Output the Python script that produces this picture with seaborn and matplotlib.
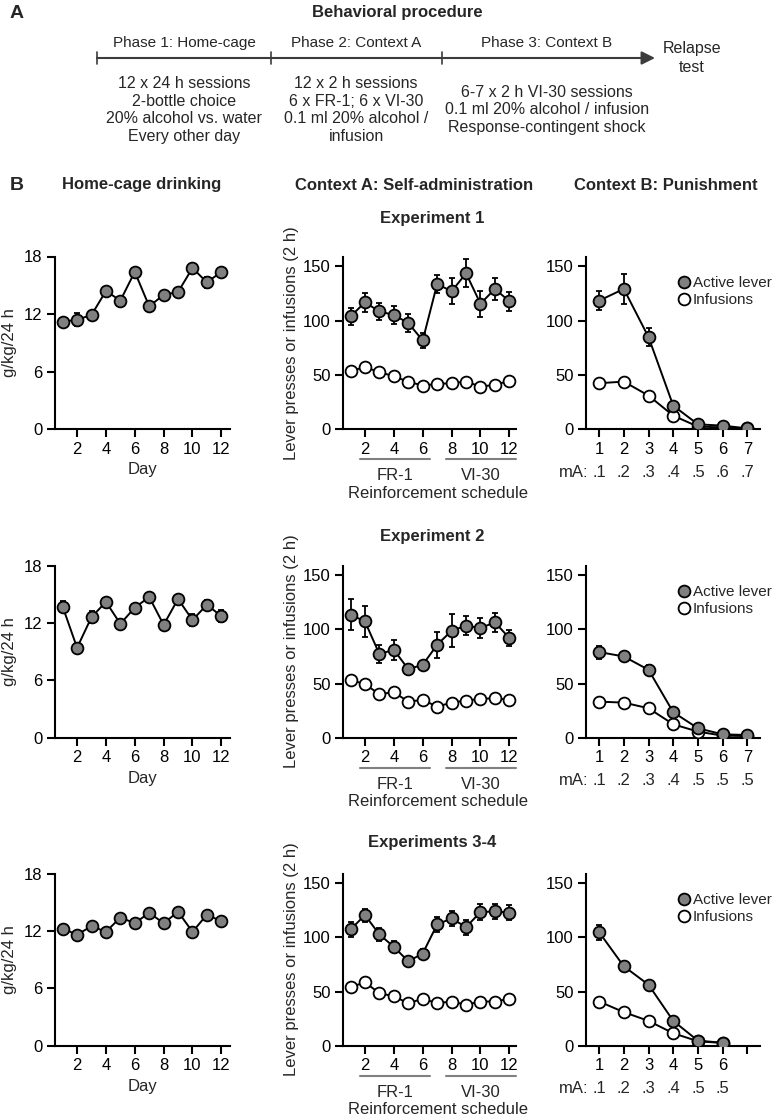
import matplotlib
matplotlib.use("Agg")
import matplotlib.pyplot as plt
import matplotlib.transforms as mtransforms
from matplotlib.lines import Line2D
import seaborn as sns

sns.set_theme(style="ticks")
plt.rcParams['font.family'] = ['Liberation Sans', 'DejaVu Sans']

# ---------------- data ----------------
days = [1, 2, 3, 4, 5, 6, 7, 8, 9, 10, 11, 12]
day_ticks = [2, 4, 6, 8, 10, 12]

home1 = [11.2, 11.4, 11.9, 14.4, 13.4, 16.4, 12.8, 14.0, 14.3, 16.8, 15.3, 16.4]
home1_err = [0.3, 0.7, 0.3, 0.3, 0.3, 0.3, 0.3, 0.3, 0.3, 0.3, 0.6, 0.3]
home2 = [13.7, 9.4, 12.6, 14.2, 11.9, 13.6, 14.7, 11.8, 14.5, 12.3, 13.9, 12.7]
home2_err = [0.6, 0.3, 0.6, 0.3, 0.3, 0.3, 0.3, 0.3, 0.3, 0.6, 0.5, 0.6]
home34 = [12.25, 11.6, 12.5, 11.9, 13.4, 12.8, 13.9, 12.8, 14.0, 11.9, 13.7, 13.0]
home34_err = [0.2, 0.2, 0.2, 0.2, 0.2, 0.2, 0.2, 0.2, 0.2, 0.2, 0.2, 0.2]

sa_active1 = [103.8, 116.7, 108.4, 105.1, 97.7, 81.6, 133.7, 126.9, 143.5, 115.5, 129.1, 117.7]
sa_active1_err = [8, 9, 8, 8, 8, 7, 8, 12, 13, 12, 10, 9]
sa_inf1 = [53.9, 56.7, 52.7, 48.4, 43.7, 40.0, 41.6, 42.2, 43.7, 39.1, 40.7, 44.4]
sa_inf1_err = [3, 2, 2, 2, 2, 2, 2, 2, 2, 2, 2, 2]

sa_active2 = [113.6, 107.4, 77.2, 81.2, 63.3, 67.3, 85.8, 98.8, 103.4, 101.3, 106.5, 92.0]
sa_active2_err = [14.5, 14, 8, 9, 4, 3, 12, 15, 9, 9, 9, 7]
sa_inf2 = [53.4, 49.4, 40.2, 42.0, 33.3, 34.9, 28.7, 32.4, 34.3, 35.8, 36.5, 34.9]
sa_inf2_err = [4, 2, 2, 2, 2, 2, 2, 2, 2, 2, 2, 2]

sa_active34 = [107.3, 120.6, 102.7, 91.3, 77.9, 85.1, 112.0, 117.5, 109.5, 123.4, 124.0, 122.8]
sa_active34_err = [7, 6, 6, 5, 4, 4, 7, 7, 7, 7, 7, 7]
sa_inf34 = [54.2, 58.4, 48.6, 45.5, 39.3, 43.3, 39.3, 40.8, 37.8, 40.8, 40.8, 43.3]
sa_inf34_err = [2, 2, 2, 2, 2, 2, 2, 2, 2, 2, 2, 2]

pun_active1 = [118.3, 129.1, 84.7, 21.5, 4.3, 3.1, 0.6]
pun_active1_err = [9, 14, 8, 3, 1, 1, 0.5]
pun_inf1 = [42.2, 43.7, 30.8, 12.3, 2.2, 1.5, 0.5]
pun_inf1_err = [2, 2, 2, 1, 0.5, 0.5, 0.3]
mA1 = ['.1', '.2', '.3', '.4', '.5', '.6', '.7']

pun_active2 = [79.1, 75.0, 62.7, 23.5, 8.7, 3.1, 2.5]
pun_active2_err = [6, 3, 4, 3, 2, 1, 1]
pun_inf2 = [33.3, 32.4, 27.2, 12.4, 5.6, 1.9, 1.5]
pun_inf2_err = [2, 2, 2, 1, 1, 0.5, 0.5]
mA2 = ['.1', '.2', '.3', '.4', '.5', '.5', '.5']

pun_active34 = [104.8, 73.3, 56.3, 22.9, 4.6, 2.8]
pun_active34_err = [7, 3, 3, 3, 1, 1]
pun_inf34 = [40.8, 31.0, 22.9, 11.5, 4.1, 2.5]
pun_inf34_err = [2, 2, 2, 1, 1, 0.5]
mA34 = ['.1', '.2', '.3', '.4', '.5', '.5']

experiments = ['Experiment 1', 'Experiment 2', 'Experiments 3-4']
col_titles = ['Home-cage drinking', 'Context A: Self-administration', 'Context B: Punishment']

rows = [
    dict(home=home1, home_err=home1_err, sa_a=sa_active1, sa_ae=sa_active1_err,
         sa_i=sa_inf1, sa_ie=sa_inf1_err, p_a=pun_active1, p_ae=pun_active1_err,
         p_i=pun_inf1, p_ie=pun_inf1_err, mA=mA1),
    dict(home=home2, home_err=home2_err, sa_a=sa_active2, sa_ae=sa_active2_err,
         sa_i=sa_inf2, sa_ie=sa_inf2_err, p_a=pun_active2, p_ae=pun_active2_err,
         p_i=pun_inf2, p_ie=pun_inf2_err, mA=mA2),
    dict(home=home34, home_err=home34_err, sa_a=sa_active34, sa_ae=sa_active34_err,
         sa_i=sa_inf34, sa_ie=sa_inf34_err, p_a=pun_active34, p_ae=pun_active34_err,
         p_i=pun_inf34, p_ie=pun_inf34_err, mA=mA34),
]

GRAY = '#808080'
W, H = 777, 1120
fig = plt.figure(figsize=(W / 100, H / 100), dpi=100)

# ---------------- overlay for procedure & headings ----------------
ov = fig.add_axes([0, 0, 1, 1], zorder=-1)
ov.set_xlim(0, W)
ov.set_ylim(H, 0)
ov.axis('off')

ov.text(10, 13, 'A', fontsize=14, fontweight='bold', ha='left', va='center')
ov.text(397, 12, 'Behavioral procedure', fontsize=12, fontweight='bold', ha='center', va='center')
line_col = '#3c3c3c'
ov.annotate('', xy=(655, 58), xytext=(97, 58),
            arrowprops=dict(arrowstyle='-|>', color=line_col, lw=1.5, mutation_scale=20,
                            shrinkA=0, shrinkB=0))
for tx in [97, 271, 442]:
    ov.plot([tx, tx], [52, 64], color=line_col, lw=1.2)
ov.text(184, 43, 'Phase 1: Home-cage', fontsize=11, ha='center', va='center')
ov.text(356, 43, 'Phase 2: Context A', fontsize=11, ha='center', va='center')
ov.text(547, 43, 'Phase 3: Context B', fontsize=11, ha='center', va='center')
ov.text(692, 58, 'Relapse\ntest', fontsize=11.5, ha='center', va='center', linespacing=1.25)
ov.text(184, 110, '12 x 24 h sessions\n2-bottle choice\n20% alcohol vs. water\nEvery other day',
        fontsize=11.5, ha='center', va='center', linespacing=1.2)
ov.text(356, 110, '12 x 2 h sessions\n6 x FR-1; 6 x VI-30\n0.1 ml 20% alcohol /\ninfusion',
        fontsize=11.5, ha='center', va='center', linespacing=1.2)
ov.text(547, 110, '6-7 x 2 h VI-30 sessions\n0.1 ml 20% alcohol / infusion\nResponse-contingent shock',
        fontsize=11.5, ha='center', va='center', linespacing=1.2)

ov.text(10, 185, 'B', fontsize=14, fontweight='bold', ha='left', va='center')
for cx, t in zip([142, 414, 666], col_titles):
    ov.text(cx, 185, t, fontsize=12, fontweight='bold', ha='center', va='center')

# ---------------- panels ----------------
cols_px = [(55, 230), (343, 516), (586, 760)]
rows_px = [(256.5, 429), (565.5, 737.7), (873.5, 1045.7)]
exp_y = [218, 537, 842]


def add_ax(c, r):
    l, rr = cols_px[c]
    t, b = rows_px[r]
    return fig.add_axes([l / W, 1 - b / H, (rr - l) / W, (b - t) / H])


def style(ax):
    for s in ['top', 'right']:
        ax.spines[s].set_visible(False)
    for s in ['left', 'bottom']:
        ax.spines[s].set_linewidth(1.5)
        ax.spines[s].set_color('black')
    ax.tick_params(direction='out', length=6, width=1.5, labelsize=12, pad=3,
                   color='black', labelcolor='black')
    ax.grid(False)


def series(ax, x, y, err, face, z):
    ax.errorbar(x, y, yerr=err, fmt='none', ecolor='black', elinewidth=1.3,
                capsize=2.2, capthick=1.3, zorder=z)
    sns.lineplot(x=x, y=y, ax=ax, color='black', lw=1.4, marker='o', markersize=8.5,
                 markerfacecolor=face, markeredgecolor='black', markeredgewidth=1.3,
                 estimator=None, errorbar=None, sort=False, zorder=z + 1)


for r, d in enumerate(rows):
    ov.text(432, exp_y[r], experiments[r], fontsize=12, fontweight='bold',
            ha='center', va='center')

    # home-cage drinking
    ax = add_ax(0, r)
    series(ax, days, d['home'], d['home_err'], GRAY, 3)
    ax.set_xlim(0.47, 12.6)
    ax.set_ylim(0, 18)
    ax.set_xticks(day_ticks)
    ax.set_yticks([0, 6, 12, 18])
    ax.set_xlabel('Day', fontsize=12, labelpad=4)
    ax.set_ylabel('g/kg/24 h', fontsize=12, labelpad=5)
    style(ax)

    # self-administration
    ax = add_ax(1, r)
    series(ax, days, d['sa_i'], d['sa_ie'], 'white', 2)
    series(ax, days, d['sa_a'], d['sa_ae'], GRAY, 4)
    ax.set_xlim(0.48, 12.46)
    ax.set_ylim(0, 159)
    ax.set_xticks(day_ticks)
    ax.set_yticks([0, 50, 100, 150])
    ax.set_xlabel('')
    ax.set_ylabel('Lever presses or infusions (2 h)', fontsize=12, labelpad=3)
    style(ax)
    trans = mtransforms.blended_transform_factory(ax.transData, ax.transAxes)
    ax.plot([1.68, 6.52], [-0.174, -0.174], color=GRAY, lw=1.5, transform=trans, clip_on=False)
    ax.plot([7.6, 12.46], [-0.174, -0.174], color=GRAY, lw=1.5, transform=trans, clip_on=False)
    ax.text(4.1, -0.27, 'FR-1', fontsize=12, ha='center', va='center', transform=trans)
    ax.text(10.03, -0.27, 'VI-30', fontsize=12, ha='center', va='center', transform=trans)
    ax.text(7.07, -0.372, 'Reinforcement schedule', fontsize=12, ha='center', va='center',
            transform=trans)

    # punishment
    ax = add_ax(2, r)
    n = len(d['p_a'])
    sess = list(range(1, n + 1))
    series(ax, sess, d['p_i'], d['p_ie'], 'white', 2)
    series(ax, sess, d['p_a'], d['p_ae'], GRAY, 4)
    ax.set_xlim(0.47, 7.51)
    ax.set_ylim(0, 159)
    ax.set_xticks([1, 2, 3, 4, 5, 6, 7])
    ax.set_xticklabels([str(i) if i <= n else '' for i in range(1, 8)])
    ax.set_yticks([0, 50, 100, 150])
    ax.set_xlabel('')
    ax.set_ylabel('')
    style(ax)
    trans = mtransforms.blended_transform_factory(ax.transData, ax.transAxes)
    ax.text(0.56, -0.25, 'mA:', fontsize=12, ha='right', va='center', transform=trans)
    for i, lab in enumerate(d['mA']):
        ax.text(i + 1, -0.25, lab, fontsize=12, ha='center', va='center', transform=trans)
    handles = [
        Line2D([], [], ls='none', marker='o', markersize=8.5, markerfacecolor=GRAY,
               markeredgecolor='black', markeredgewidth=1.3, label='Active lever'),
        Line2D([], [], ls='none', marker='o', markersize=8.5, markerfacecolor='white',
               markeredgecolor='black', markeredgewidth=1.3, label='Infusions'),
    ]
    ax.legend(handles=handles, loc='upper left', bbox_to_anchor=(0.53, 0.885),
              frameon=False, fontsize=11, handlelength=0.8, handletextpad=0.15,
              labelspacing=0.2, borderpad=0, borderaxespad=0)

fig.savefig('out.png', dpi=100)
